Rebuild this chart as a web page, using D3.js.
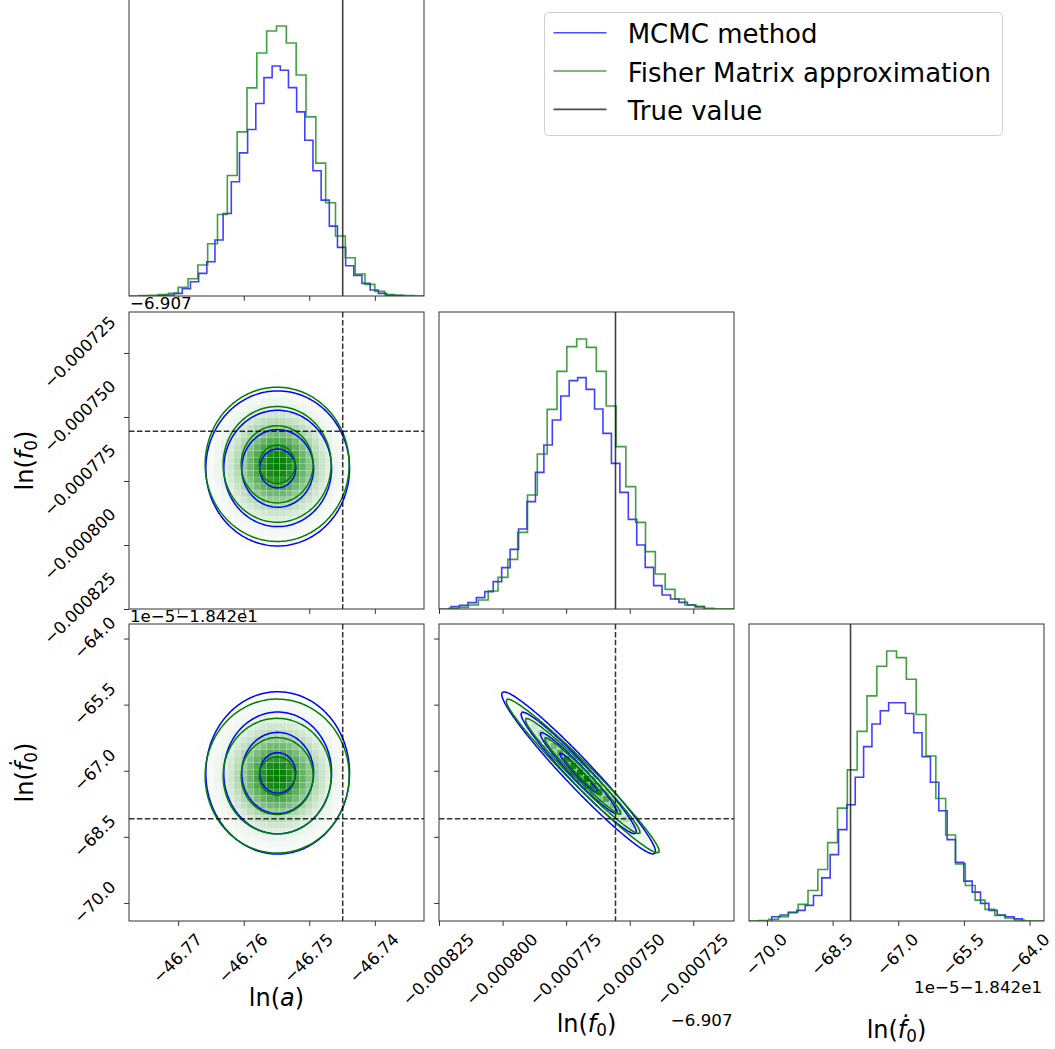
<!DOCTYPE html>
<html>
<head>
<meta charset="utf-8">
<script src="https://cdn.jsdelivr.net/npm/d3@7"></script>
<style>
  body { margin: 0; background: #fff; }
  svg { display: block; }
  text { font-family: "DejaVu Sans", sans-serif; fill: #000; }
</style>
</head>
<body>
<svg id="chart" width="1055" height="1049"></svg>
<script>
// ================= DATA =================
const paramNames = ["ln(a)", "ln(f0)", "ln(fdot0)"];
const axisDomains = [[-46.7775, -46.7325], [-0.000825, -0.000709], [-70.41, -63.67]];

const tickValuesA  = [-46.77, -46.76, -46.75, -46.74];
const tickLabelsA  = ["−46.77", "−46.76", "−46.75", "−46.74"];
const tickValuesF0 = [-0.000825, -0.0008, -0.000775, -0.00075, -0.000725];
const tickLabelsF0 = ["−0.000825", "−0.000800", "−0.000775", "−0.000750", "−0.000725"];
const tickValuesFd = [-70.0, -68.5, -67.0, -65.5, -64.0];
const tickLabelsFd = ["−70.0", "−68.5", "−67.0", "−65.5", "−64.0"];
const offsetTextF0 = "−6.907";
const offsetTextFd = "1e−5−1.842e1";

const truthValues = [-46.7449, -0.0007556, -68.09];

// 1D histograms (30 bins each), heights
const mcmcHistRanges   = [[-46.77311, -46.73573], [-0.00082028, -0.00072068], [-69.891, -64.166]];
const fisherHistRanges = [[-46.7775, -46.7325], [-0.000825, -0.000709], [-70.41, -63.67]];
const mcmcHistA   = [1,3,8,22,43,68,103,168,248,343,430,500,578,656,691,678,626,553,468,376,288,210,146,91,62,38,18,8,2,1];
const fisherHistA = [0,1,2,4,8,26,52,93,157,245,362,493,625,730,796,811,760,664,538,399,280,180,115,66,35,14,4,2,1,0];
const mcmcHistF0   = [7,11,19,34,52,82,124,179,240,322,410,492,567,639,685,694,659,600,527,437,350,269,192,125,70,42,30,20,12,7];
const fisherHistF0 = [0,2,5,12,27,54,95,149,230,342,465,599,713,787,810,785,713,609,487,367,260,172,105,59,30,12,7,2,0,0];
const mcmcHistFd   = [13,18,25,32,47,77,130,200,275,350,433,525,593,633,657,657,625,567,495,418,332,245,177,120,87,53,32,18,13,7];
const fisherHistFd = [0,1,5,13,27,50,92,155,236,340,455,571,678,767,813,793,728,622,497,369,259,172,107,63,35,17,9,3,0,0];

// 2D posterior summaries (mean, sigma per parameter, correlation)
const mcmcMean    = [-46.75482, -0.0007701, -67.05];
const mcmcSigma   = [0.00548, 1.514e-5, 0.921];
const fisherMean  = [-46.7549, -0.0007685, -67.12];
const fisherSigma = [0.00549, 1.506e-5, 0.873];
const mcmcCorr    = [[1, 0, 0], [0, 1, -0.970], [0, -0.970, 1]];
const fisherCorr  = [[1, 0, 0], [0, 1, -0.978], [0, -0.978, 1]];
const sigmaLevels = [0.5, 1, 1.5, 2];

const legendLabels = ["MCMC method", "Fisher Matrix approximation", "True value"];

// ================= STYLE / LAYOUT =================
const BLUE = "#0000ff", GREEN = "#008000", TRUTH = "#000000";
const colX = [129, 439, 749], rowY = [-1, 312, 624];
const PW = 295, PH = 297;
const FS = 16.67;

const svg = d3.select("#chart");
const defs = svg.append("defs");

const mcmcHists = [mcmcHistA, mcmcHistF0, mcmcHistFd];
const fisherHists = [fisherHistA, fisherHistF0, fisherHistFd];
const tickValues = [tickValuesA, tickValuesF0, tickValuesFd];
const tickLabels = [tickLabelsA, tickLabelsF0, tickLabelsFd];

const xScales = axisDomains.map((d, i) => d3.scaleLinear().domain(d).range([colX[i], colX[i] + PW]));
const yScales = axisDomains.map((d, i) => d3.scaleLinear().domain(d).range([rowY[i] + PH, rowY[i]]));

function clipFor(r, c) {
  const id = `clip-${r}-${c}`;
  defs.append("clipPath").attr("id", id).append("rect")
    .attr("x", colX[c]).attr("y", rowY[r]).attr("width", PW).attr("height", PH);
  return `url(#${id})`;
}

// ---------- 1D histograms ----------
function stepPoints(values, range) {
  const n = values.length, w = (range[1] - range[0]) / n;
  const pts = [[range[0], 0]];
  values.forEach((v, k) => { pts.push([range[0] + k * w, v], [range[0] + (k + 1) * w, v]); });
  pts.push([range[1], 0]);
  return pts;
}

for (let i = 0; i < 3; i++) {
  const g = svg.append("g").attr("clip-path", clipFor(i, i));
  const x = xScales[i];
  const ymax = 1.1 * d3.max([...mcmcHists[i], ...fisherHists[i]]);
  const y = d3.scaleLinear().domain([0, ymax]).range([rowY[i] + PH, rowY[i]]);
  const line = d3.line().x(d => x(d[0])).y(d => y(d[1]));
  g.append("path").attr("d", line(stepPoints(mcmcHists[i], mcmcHistRanges[i])))
    .attr("fill", "none").attr("stroke", BLUE).attr("stroke-opacity", 0.75).attr("stroke-width", 1.6);
  g.append("path").attr("d", line(stepPoints(fisherHists[i], fisherHistRanges[i])))
    .attr("fill", "none").attr("stroke", GREEN).attr("stroke-opacity", 0.75).attr("stroke-width", 1.6);
  g.append("line").attr("x1", x(truthValues[i])).attr("x2", x(truthValues[i]))
    .attr("y1", rowY[i]).attr("y2", rowY[i] + PH)
    .attr("stroke", TRUTH).attr("stroke-opacity", 0.75).attr("stroke-width", 1.6);
}

// ---------- 2D panels ----------
function density(mean, sigma, corr, c, r) {
  const rho = corr[c][r];
  return (xv, yv) => {
    const dx = (xv - mean[c]) / sigma[c], dy = (yv - mean[r]) / sigma[r];
    const q = (dx * dx - 2 * rho * dx * dy + dy * dy) / (1 - rho * rho);
    return Math.exp(-0.5 * q);
  };
}

const series = [
  { color: BLUE, mean: mcmcMean, sigma: mcmcSigma, corr: mcmcCorr, ranges: mcmcHistRanges, shade: v => 0.12 * Math.sqrt(v) },
  { color: GREEN, mean: fisherMean, sigma: fisherSigma, corr: fisherCorr, ranges: fisherHistRanges, shade: v => v }
];

const panels2D = [[1, 0], [2, 0], [2, 1]];
const NB = 45, NG = 140;
const levelValues = sigmaLevels.map(s => Math.exp(-0.5 * s * s)).sort((a, b) => a - b);

panels2D.forEach(([r, c]) => {
  const g = svg.append("g").attr("clip-path", clipFor(r, c));
  const x = xScales[c], y = yScales[r];

  // density cells
  series.forEach(s => {
    const f = density(s.mean, s.sigma, s.corr, c, r);
    const rx = s.ranges[c], ry = s.ranges[r];
    const dx = (rx[1] - rx[0]) / NB, dy = (ry[1] - ry[0]) / NB;
    const cells = [];
    for (let i = 0; i < NB; i++) for (let j = 0; j < NB; j++) {
      cells.push({ x0: rx[0] + i * dx, x1: rx[0] + (i + 1) * dx, y0: ry[0] + j * dy, y1: ry[0] + (j + 1) * dy,
                   v: f(rx[0] + (i + 0.5) * dx, ry[0] + (j + 0.5) * dy) });
    }
    const vmax = d3.max(cells, d => d.v);
    cells.forEach(d => { d.t = s.shade(d.v / vmax); });
    const interp = d3.interpolateRgb("#ffffff", s.color);
    g.append("g").selectAll("rect").data(cells.filter(d => d.t > 0.004)).join("rect")
      .attr("x", d => x(d.x0)).attr("width", d => x(d.x1) - x(d.x0))
      .attr("y", d => y(d.y1)).attr("height", d => y(d.y0) - y(d.y1))
      .attr("fill", d => interp(d.t)).attr("fill-opacity", d => d.t)
      .attr("stroke", "#ffffff").attr("stroke-width", 0.5).attr("stroke-opacity", 0.3);
  });

  // contours
  series.forEach(s => {
    const f = density(s.mean, s.sigma, s.corr, c, r);
    const xd = axisDomains[c], yd = axisDomains[r];
    const vals = new Array(NG * NG);
    for (let j = 0; j < NG; j++) for (let i = 0; i < NG; i++) {
      const xv = xd[0] + (i + 0.5) / NG * (xd[1] - xd[0]);
      const yv = yd[1] - (j + 0.5) / NG * (yd[1] - yd[0]);
      vals[j * NG + i] = f(xv, yv);
    }
    const conts = d3.contours().size([NG, NG]).thresholds(levelValues)(vals);
    const sx = PW / NG, sy = PH / NG, ox = colX[c], oy = rowY[r];
    const path = d3.geoPath(d3.geoTransform({
      point(px, py) { this.stream.point(ox + px * sx, oy + py * sy); }
    }));
    g.append("g").selectAll("path").data(conts).join("path")
      .attr("d", path).attr("fill", "none").attr("stroke", s.color).attr("stroke-width", 1.5);
  });

  // truth lines
  g.append("line").attr("x1", x(truthValues[c])).attr("x2", x(truthValues[c]))
    .attr("y1", rowY[r]).attr("y2", rowY[r] + PH)
    .attr("stroke", TRUTH).attr("stroke-opacity", 0.8).attr("stroke-width", 1.5).attr("stroke-dasharray", "5.5,2.4");
  g.append("line").attr("x1", colX[c]).attr("x2", colX[c] + PW)
    .attr("y1", y(truthValues[r])).attr("y2", y(truthValues[r]))
    .attr("stroke", TRUTH).attr("stroke-opacity", 0.8).attr("stroke-width", 1.5).attr("stroke-dasharray", "5.5,2.4");
});

// ---------- frames and ticks ----------
const allPanels = [[0, 0], [1, 0], [1, 1], [2, 0], [2, 1], [2, 2]];
allPanels.forEach(([r, c]) => {
  const ga = svg.append("g");
  ga.append("rect").attr("x", colX[c]).attr("y", rowY[r]).attr("width", PW).attr("height", PH)
    .attr("fill", "none").attr("stroke", "#333").attr("stroke-width", 1);
  const xa = d3.axisBottom(xScales[c]).tickValues(tickValues[c]).tickSize(4.9).tickFormat("");
  const gx = ga.append("g").attr("transform", `translate(0,${rowY[r] + PH})`).call(xa);
  gx.select(".domain").remove();
  gx.selectAll("line").attr("stroke", "#333").attr("stroke-width", 1);
  if (c < r) {
    const ya = d3.axisLeft(yScales[r]).tickValues(tickValues[r]).tickSize(4.9).tickFormat("");
    const gy = ga.append("g").attr("transform", `translate(${colX[c]},0)`).call(ya);
    gy.select(".domain").remove();
    gy.selectAll("line").attr("stroke", "#333").attr("stroke-width", 1);
  }
});

// ---------- rotated tick labels ----------
const labelLayer = svg.append("g").attr("font-size", FS);
function rotated(str, place) {
  const t = labelLayer.append("text").attr("text-anchor", "middle").attr("dy", "0.275em").text(str);
  const L = t.node().getComputedTextLength();
  const w = (L + 0.97 * FS) * Math.SQRT1_2;
  const [cx, cy] = place(w);
  t.attr("transform", `translate(${cx},${cy}) rotate(-45)`);
}
const xLabelTop = rowY[2] + PH + 10.5;
for (let c = 0; c < 3; c++) {
  tickValues[c].forEach((v, k) => {
    rotated(tickLabels[c][k], w => [xScales[c](v), xLabelTop + w / 2]);
  });
}
const yLabelRight = colX[0] - 9.8;
[1, 2].forEach(r => {
  tickValues[r].forEach((v, k) => {
    rotated(tickLabels[r][k], w => [yLabelRight - w / 2, yScales[r](v)]);
  });
});

// offset texts
svg.append("text").attr("x", colX[0] + 1).attr("y", 309).attr("font-size", FS).text(offsetTextF0);
svg.append("text").attr("x", colX[0] + 1).attr("y", 621.5).attr("font-size", FS).text(offsetTextFd);
svg.append("text").attr("x", colX[1] + PW - 1.5).attr("y", 1025.7).attr("text-anchor", "end").attr("font-size", FS).text(offsetTextF0);
svg.append("text").attr("x", colX[2] + PW - 2).attr("y", 993.3).attr("text-anchor", "end").attr("font-size", FS).text(offsetTextFd);

// ---------- axis labels (mathtext-like) ----------
function mathLabel(g, italicPart, withSub) {
  const t = g.append("text").attr("text-anchor", "middle").attr("font-size", 24);
  t.append("tspan").text("ln(");
  t.append("tspan").attr("font-style", "italic").text(italicPart);
  if (withSub) {
    t.append("tspan").attr("font-size", 16.8).attr("dy", 4).text("0");
    t.append("tspan").attr("dy", -4).text(")");
  } else {
    t.append("tspan").text(")");
  }
  return t;
}
const labelParts = [["a", false], ["f", true], ["\u1E1F", true]];
const xLabelBase = [1006, 1032.3, 1037.7];
for (let c = 0; c < 3; c++) {
  const g = svg.append("g").attr("transform", `translate(${colX[c] + PW / 2},${xLabelBase[c]})`);
  mathLabel(g, labelParts[c][0], labelParts[c][1]);
}
[1, 2].forEach(r => {
  const g = svg.append("g").attr("transform", `translate(33,${rowY[r] + PH / 2}) rotate(-90)`);
  mathLabel(g, labelParts[r][0], labelParts[r][1]);
});

// ---------- legend ----------
const lg = svg.append("g");
lg.append("rect").attr("x", 544.5).attr("y", 12.5).attr("width", 458).attr("height", 123).attr("rx", 4)
  .attr("fill", "#fff").attr("stroke", "#d0d0d0").attr("stroke-width", 1);
const legendColors = [BLUE, GREEN, TRUTH];
legendLabels.forEach((lab, k) => {
  const yb = 43.3 + k * 38.35;
  lg.append("line").attr("x1", 553.5).attr("x2", 606.5).attr("y1", yb - 10.6).attr("y2", yb - 10.6)
    .attr("stroke", legendColors[k]).attr("stroke-opacity", 0.7).attr("stroke-width", 1.6);
  lg.append("text").attr("x", 627.7).attr("y", yb).attr("font-size", 26).text(lab);
});
</script>
</body>
</html>
